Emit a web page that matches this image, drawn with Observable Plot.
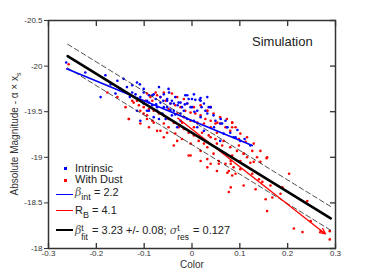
<!DOCTYPE html>
<html><head><meta charset="utf-8">
<script src="https://cdn.jsdelivr.net/npm/d3@7"></script>
<script src="https://cdn.jsdelivr.net/npm/@observablehq/plot@0.6"></script>
<style>
body{margin:0;background:#fff;font-family:"Liberation Sans",Arial,sans-serif;}
#wrap{position:relative;width:370px;height:278px;overflow:hidden;}
.ov{position:absolute;white-space:nowrap;color:#222;line-height:13px;}
.leg{font-size:11px;}
.sw{position:absolute;}
.ss{display:inline-block;vertical-align:-6px;line-height:9px;font-size:8.5px;margin-right:1px;}
.ss span{display:block;height:9px;}
sub{font-size:9px;vertical-align:-4px;line-height:0;}
i{font-family:"DejaVu Serif",serif;font-size:11px;color:#555;}
</style></head><body><div id="wrap"></div>
<script>
const xTicks = [-0.3, -0.2, -0.1, 0, 0.1, 0.2, 0.3];
const yTicks = [-20.5, -20, -19.5, -19, -18.5, -18];

const intrinsic = [
[-0.263,-20.04],[-0.223,-19.93],[-0.191,-19.66],[-0.181,-19.90],[-0.170,-19.80],[-0.156,-19.84],[-0.143,-19.86],[-0.136,-19.77],
[-0.125,-19.79],[-0.125,-19.71],[-0.115,-19.82],[-0.118,-19.69],[-0.109,-19.80],[-0.108,-19.66],[-0.108,-19.40],[-0.101,-19.75],
[-0.101,-19.71],[-0.101,-19.59],[-0.115,-19.51],[-0.094,-19.62],[-0.094,-19.51],[-0.090,-19.68],[-0.090,-19.51],[-0.083,-19.68],
[-0.083,-19.57],[-0.080,-19.69],[-0.080,-19.44],[-0.076,-19.64],[-0.073,-19.55],[-0.073,-19.51],[-0.069,-19.77],[-0.069,-19.42],
[-0.066,-19.66],[-0.066,-19.60],[-0.062,-19.48],[-0.059,-19.69],[-0.059,-19.55],[-0.055,-19.42],[-0.052,-19.64],[-0.052,-19.62],
[-0.052,-19.55],[-0.049,-19.75],[-0.048,-19.71],[-0.045,-19.59],[-0.042,-19.62],[-0.042,-19.46],[-0.038,-19.59],[-0.038,-19.51],
[-0.035,-19.66],[-0.031,-19.33],[-0.028,-19.60],[-0.024,-19.60],[-0.024,-19.48],[-0.024,-19.40],[-0.021,-19.55],[-0.017,-19.51],
[-0.014,-19.68],[-0.010,-19.68],[-0.010,-19.59],[-0.010,-19.42],[-0.007,-19.64],[-0.003,-19.55],[0.000,-19.64],[0.000,-19.55],
[0.004,-19.69],[0.004,-19.40],[0.007,-19.63],[0.011,-19.51],[0.011,-19.33],[0.016,-19.63],[0.018,-19.65],[0.018,-19.62],
[0.018,-19.44],[0.025,-19.59],[0.025,-19.29],[0.028,-19.51],[0.032,-19.66],[0.032,-19.48],[0.035,-19.55],[0.039,-19.55],
[0.046,-19.33],[0.049,-19.40],[0.059,-19.37],[0.059,-19.18],[0.060,-19.42],[0.063,-19.37],[0.066,-19.26],[0.073,-19.33],
[0.074,-19.33],[0.080,-19.27],[0.087,-19.22],[0.091,-19.22],[0.101,-19.18],[0.122,-19.13],
[-0.030,-19.57],[-0.045,-19.52],[-0.060,-19.62],[-0.015,-19.58],[0.005,-19.50],[-0.075,-19.58],[-0.090,-19.60],[0.020,-19.55],
[0.045,-19.46],[-0.035,-19.47],[-0.150,-19.75],[-0.160,-19.70],[-0.130,-19.66],[0.070,-19.40],[0.095,-19.30],[0.110,-19.20]
];

const withDust = [
[-0.258,-20.02],[-0.177,-19.71],[-0.156,-19.66],[-0.139,-19.55],[-0.132,-19.42],[-0.108,-19.51],[-0.094,-19.46],[-0.083,-19.40],
[-0.059,-19.22],[-0.073,-19.29],[-0.115,-19.62],[-0.125,-19.62],
[-0.094,-19.70],[-0.087,-19.66],[-0.076,-19.71],[-0.066,-19.66],[-0.055,-19.62],[-0.045,-19.59],[-0.035,-19.57],[-0.024,-19.55],
[-0.014,-19.51],[-0.003,-19.49],[0.007,-19.48],[0.018,-19.46],[0.028,-19.42],[0.039,-19.40],[0.049,-19.37],[0.059,-19.37],
[0.070,-19.33],[0.080,-19.29],[0.091,-19.33],[0.101,-19.26],[0.115,-19.22],[0.129,-19.15],[0.143,-19.07],[0.157,-19.00],
[0.039,-19.22],[0.025,-19.15],[0.014,-19.18],[0.004,-19.24],[-0.007,-19.27],[-0.017,-19.31],[-0.028,-19.33],[-0.038,-19.38],
[-0.049,-19.42],[-0.059,-19.46],[-0.069,-19.48],[-0.080,-19.51],[-0.090,-19.53],[-0.101,-19.55],[-0.111,-19.57],[-0.122,-19.60],
[-0.132,-19.42],[-0.108,-19.37],[-0.090,-19.33],[-0.066,-19.29],[-0.052,-19.27],[-0.035,-19.26],[-0.021,-19.20],[-0.003,-19.15],
[0.018,-19.07],[0.032,-19.11],[0.045,-19.04],[0.056,-18.96],[0.070,-18.93],[0.077,-18.85],[0.087,-18.89],[0.101,-18.96],
[0.115,-19.00],[0.129,-18.95],[0.052,-19.15],[0.066,-19.18],[0.080,-19.11],[0.094,-19.07],[0.108,-19.04],[0.052,-19.27],
[0.039,-19.33],[0.025,-19.37],[0.011,-19.38],[-0.003,-19.40],[-0.017,-19.44],[-0.031,-19.48],[-0.010,-19.59],[0.004,-19.55],
[0.018,-19.57],[0.032,-19.51],[0.045,-19.48],[0.059,-19.44],[0.073,-19.42],[0.084,-19.38],[-0.017,-19.64],[-0.031,-19.66],
[-0.042,-19.70],[-0.059,-19.71],[-0.073,-19.68],[-0.083,-19.62],[-0.097,-19.62],[-0.049,-19.53],[-0.021,-19.38],[0.004,-19.33],
[0.021,-19.27],[0.035,-19.24],[0.049,-19.20],[0.063,-19.13],[0.084,-19.02],[0.098,-19.13],[0.112,-19.17],[0.126,-19.07],
[0.136,-19.00],[0.143,-18.95],[-0.080,-19.38],[-0.049,-19.33],[-0.007,-19.02],[0.018,-18.96],[0.032,-18.89],[0.052,-18.85],
[-0.031,-19.18],[-0.059,-19.37],[-0.101,-19.48],[-0.094,-19.42],[-0.038,-19.13],
[0.032,-19.51],[0.053,-19.38],[0.084,-19.38],[0.084,-19.33],[0.098,-19.20],[0.039,-19.55],
[0.156,-18.99],[0.203,-18.82],[0.241,-18.52],[0.213,-18.22],[0.248,-18.30],[0.288,-18.19],[0.288,-18.10],[0.269,-18.19],
[0.189,-18.67],[0.164,-18.69],[0.154,-18.54],[0.168,-18.56],[0.133,-18.65],[0.108,-18.69],[0.147,-18.73],[0.126,-18.82],
[0.140,-18.76],[0.091,-18.82],[0.084,-18.80],[0.122,-18.94],[0.108,-19.04],[0.101,-18.87],[0.081,-18.93],[0.231,-18.18],
[0.185,-18.60],[0.157,-18.41],[-0.003,-19.02],[0.039,-18.93],[0.081,-18.96],[0.081,-18.67],[0.074,-18.83],[0.056,-18.93],
[0.032,-18.98],[0.077,-18.62]
];

const fitX = [-0.26, 0.29];
const fitY = [-20.11, -18.33];
const fitUpperY = [-20.24, -18.46];
const fitLowerY = [-19.98, -18.20];
const intLineX = [-0.262, 0.126];
const intLineY = [-19.97, -19.13];
const dustArrowX = [-0.03, 0.279];
const dustArrowY = [-19.43, -18.16];

const toPts = (xs, ys) => xs.map((x, i) => ({x, y: ys[i]}));
const ptsI = intrinsic.map(([x, y]) => ({x, y}));
const ptsD = withDust.map(([x, y]) => ({x, y}));

const chart = Plot.plot({
  width: 370, height: 278,
  marginLeft: 48, marginRight: 35, marginTop: 20, marginBottom: 30,
  style: {fontFamily: '"Liberation Sans", Arial, sans-serif', background: "#fff"},
  x: {domain: [-0.3, 0.3], label: null},
  y: {domain: [-20.5, -18], reverse: true, label: null},
  marks: [
    Plot.dot(ptsD, {x: "x", y: "y", r: 1.3, fill: "#ff0000", stroke: null}),
    Plot.dot(ptsI, {x: "x", y: "y", r: 1.3, fill: "#0000ff", stroke: null}),
    Plot.line(toPts(fitX, fitUpperY), {x: "x", y: "y", stroke: "#222", strokeWidth: 0.8, strokeDasharray: "5,3"}),
    Plot.line(toPts(fitX, fitLowerY), {x: "x", y: "y", stroke: "#222", strokeWidth: 0.8, strokeDasharray: "5,3"}),
    Plot.line(toPts(intLineX, intLineY), {x: "x", y: "y", stroke: "#0000ff", strokeWidth: 1.6}),
    Plot.arrow([{x1: dustArrowX[0], y1: dustArrowY[0], x2: dustArrowX[1], y2: dustArrowY[1]}],
      {x1: "x1", y1: "y1", x2: "x2", y2: "y2", stroke: "#ff0000", strokeWidth: 1.3, headLength: 7, headAngle: 50}),
    Plot.line(toPts(fitX, fitY), {x: "x", y: "y", stroke: "#000", strokeWidth: 2.6}),
    Plot.frame({stroke: "#333", strokeWidth: 1.5}),
    Plot.axisX(xTicks, {anchor: "bottom", tickSize: 0, tickPadding: 2, tickFormat: d => String(d), fontSize: 8, color: "#333", label: null}),
    Plot.axisX(xTicks, {anchor: "bottom", tickSize: -5, fill: null, stroke: "#333", strokeWidth: 1.3, label: null}),
    Plot.axisX(xTicks, {anchor: "top", tickSize: -5, fill: null, stroke: "#333", strokeWidth: 1.3, label: null}),
    Plot.axisY(yTicks, {anchor: "left", tickSize: 4, tickPadding: 2, tickFormat: d => String(d), fontSize: 8, color: "#333", label: null}),
    Plot.axisY(yTicks, {anchor: "right", tickSize: -6, fill: null, stroke: "#333", strokeWidth: 1.3, label: null})
  ]
});

const wrap = document.getElementById("wrap");
wrap.appendChild(chart);

function ov(html, css, cls = "ov") {
  const d = document.createElement("div");
  d.className = cls;
  d.innerHTML = html;
  d.style.cssText += css;
  wrap.appendChild(d);
}
ov("Simulation", "left:252px;top:35px;font-size:13px;color:#222;");
ov("Color", "left:167px;top:258px;width:50px;text-align:center;font-size:10px;color:#333;");
ov("Absolute Magnitude - &alpha; &times; x<sub style='font-size:7px;vertical-align:-3px'>s</sub>",
   "left:14px;top:134px;font-size:10px;color:#333;transform:translate(-50%,-50%) rotate(-90deg);");

// legend swatches
ov("", "left:64px;top:167px;width:2.5px;height:2.5px;background:#0000ff;", "sw");
ov("", "left:64px;top:179px;width:2.5px;height:2.5px;background:#ff0000;", "sw");
ov("", "left:56px;top:193.5px;width:17px;height:1.6px;background:#0000ff;", "sw");
ov("", "left:56px;top:210px;width:17px;height:1.4px;background:#ff0000;", "sw");
ov("", "left:56px;top:228.5px;width:17px;height:2.6px;background:#000;", "sw");
// legend texts
ov("Intrinsic", "left:75px;top:161.5px;", "ov leg");
ov("With Dust", "left:75px;top:173px;", "ov leg");
ov("<i>&beta;</i><sub>int</sub> = 2.2", "left:75px;top:186px;", "ov leg");
ov("R<sub>B</sub> = 4.1", "left:75px;top:203.5px;", "ov leg");
ov("<i>&beta;</i><span class='ss'><span>t</span><span>fit</span></span> = 3.23 +/- 0.08; <i>&sigma;</i><span class='ss'><span>t</span><span>res</span></span> = 0.127",
   "left:75px;top:223.5px;", "ov leg");
</script>
</body></html>
